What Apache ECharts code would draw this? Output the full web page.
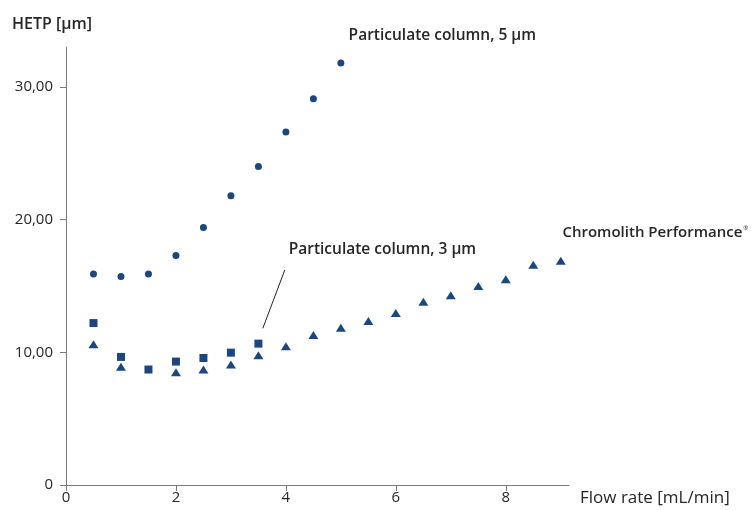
<!DOCTYPE html>
<html><head><meta charset="utf-8">
<script src="https://cdn.jsdelivr.net/npm/echarts@6/dist/echarts.min.js"></script>
<style>html,body{margin:0;padding:0;background:#fff}#c{width:752px;height:510px}</style>
</head><body><div id="c"></div>
<script>
// Data
const flow5 = [0.5, 1.0, 1.5, 2.0, 2.5, 3.0, 3.5, 4.0, 4.5, 5.0];
const hetp5 = [15.9, 15.7, 15.9, 17.3, 19.4, 21.8, 24.0, 26.6, 29.1, 31.8];
const flow3 = [0.5, 1.0, 1.5, 2.0, 2.5, 3.0, 3.5];
const hetp3 = [12.2, 9.65, 8.7, 9.3, 9.57, 9.97, 10.65];
const flowChromo = [0.5, 1.0, 2.0, 2.5, 3.0, 3.5, 4.0, 4.5, 5.0, 5.5, 6.0, 6.5, 7.0, 7.5, 8.0, 8.5, 9.0];
const hetpChromo = [10.6, 8.9, 8.5, 8.7, 9.07, 9.77, 10.45, 11.3, 11.85, 12.35, 12.96, 13.8, 14.3, 15.0, 15.5, 16.6, 16.9];
const xTickValues = [0, 2, 4, 6, 8];
const xTickLabels = ['0', '2', '4', '6', '8'];
const yTickValues = [0, 10, 20, 30];
const yTickLabels = ['0', '10,00', '20,00', '30,00'];
const seriesNames = ['Particulate column, 5 µm', 'Particulate column, 3 µm', 'Chromolith Performance'];
const labelAnchorsX = [5.15, 4.06, 9.04];
const labelAnchorsY = [33.8, 17.67, 18.95];
const leaderX = [3.98, 3.58];
const leaderY = [16.2, 11.8];
const yAxisTitle = 'HETP [µm]';
const xAxisTitle = 'Flow rate [mL/min]';

const zip = (xs, ys) => xs.map((x, i) => [x, ys[i]]);
const markColor = '#1c4680';
const axisColor = '#7a7a7a';
const textColor = '#262626';
const font = 'Open Sans';

const chart = echarts.init(document.getElementById('c'), null, {renderer: 'canvas'});
const labelData = seriesNames.map((n, i) => ({
  value: [labelAnchorsX[i], labelAnchorsY[i]],
  label: {formatter: i === 2 ? '{c|' + n + '}{b|®}' : '{a|' + n + '}'}
}));
const option = {
  animation: false,
  grid: {left: 66, right: 183, top: 47, bottom: 25, containLabel: false},
  xAxis: {
    type: 'value', min: 0, max: 9.15, interval: 2,
    axisLine: {lineStyle: {color: axisColor, width: 1}},
    axisTick: {show: true, length: 6, lineStyle: {color: axisColor}, customValues: xTickValues},
    axisLabel: {customValues: xTickValues, color: textColor, fontFamily: font, fontSize: 15, margin: 5,
      formatter: v => xTickLabels[xTickValues.indexOf(v)]},
    splitLine: {show: false}
  },
  yAxis: {
    type: 'value', min: 0, max: 33, interval: 10,
    axisLine: {show: true, lineStyle: {color: axisColor, width: 1}},
    axisTick: {show: true, length: 6, lineStyle: {color: axisColor}, customValues: yTickValues},
    axisLabel: {customValues: yTickValues, color: textColor, fontFamily: font, fontSize: 15, margin: 13,
      formatter: v => yTickLabels[yTickValues.indexOf(v)]},
    splitLine: {show: false}
  },
  graphic: [
    {type: 'text', left: 12, top: 16, style: {text: yAxisTitle, fill: textColor, font: '600 16px "Open Sans"'}},
    {type: 'text', left: 580, top: 490, style: {text: xAxisTitle, fill: textColor, font: '17px "Open Sans"'}}
  ],
  series: [
    {
      name: seriesNames[2], type: 'scatter', symbol: 'triangle', symbolSize: [10, 8],
      itemStyle: {color: markColor, opacity: 1}, data: zip(flowChromo, hetpChromo), z: 2
    },
    {
      name: seriesNames[1], type: 'scatter', symbol: 'rect', symbolSize: 8,
      itemStyle: {color: markColor, opacity: 1}, data: zip(flow3, hetp3), z: 3,
      markLine: {
        silent: true, symbol: 'none', label: {show: false},
        lineStyle: {color: '#222', width: 1, type: 'solid'},
        data: [[{coord: [leaderX[0], leaderY[0]]}, {coord: [leaderX[1], leaderY[1]]}]]
      }
    },
    {
      name: seriesNames[0], type: 'scatter', symbol: 'circle', symbolSize: 7,
      itemStyle: {color: markColor, opacity: 1}, data: zip(flow5, hetp5), z: 3
    },
    {
      name: 'labels', type: 'scatter', symbol: 'circle', symbolSize: 1, clip: false,
      itemStyle: {color: 'rgba(0,0,0,0)', opacity: 1}, silent: true, z: 5,
      label: {show: true, position: [0, 0], align: 'left', verticalAlign: 'middle',
        rich: {a: {fontFamily: font, fontWeight: 600, fontSize: 15.5, color: textColor},
               c: {fontFamily: font, fontWeight: 600, fontSize: 15, color: textColor},
               b: {fontFamily: font, fontSize: 6, color: textColor, verticalAlign: 'top', padding: [0, 0, 8, 1]}}},
      data: labelData
    }
  ]
};
chart.setOption(option);
</script></body></html>
